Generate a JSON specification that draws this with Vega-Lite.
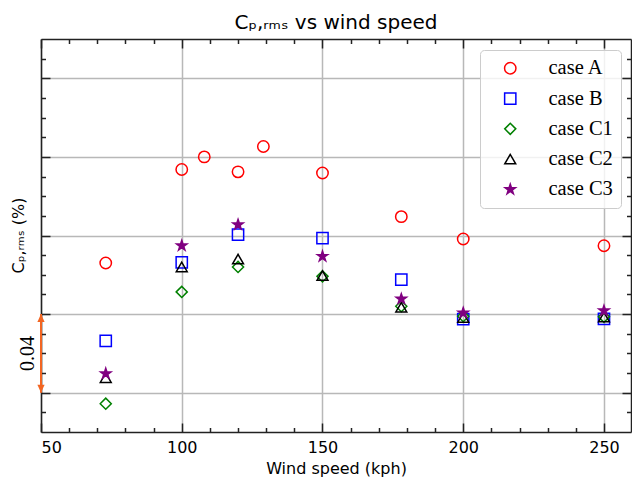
{
  "$schema": "https://vega.github.io/schema/vega-lite/v6.json",
  "width": 590,
  "height": 393,
  "autosize": "none",
  "padding": {"left": 41, "top": 39, "right": 1, "bottom": 49},
  "background": "white",
  "title": {"text": "Cₚ,ᵣₘₛ vs wind speed", "font": "DejaVu Sans", "fontSize": 20, "fontWeight": "normal", "color": "#000000", "baseline": "alphabetic", "offset": 10, "dy": 21},
  "config": {
    "view": {"stroke": null},
    "axis": {"labelFont": "DejaVu Sans", "titleFont": "DejaVu Sans", "labelColor": "#000000", "titleColor": "#000000", "tickColor": "#222222", "domainColor": "#222222", "tickWidth": 1.5, "domainWidth": 1.5, "gridColor": "#b8b8b8", "gridWidth": 1.5, "titleFontWeight": "normal", "labelFontSize": 16, "titleFontSize": 16},
    "legend": {"orient": "none", "legendX": 439, "legendY": 11, "padding": 8, "symbolOffset": 12, "labelOffset": 28, "labelFont": "Liberation Serif", "labelFontSize": 20.5, "labelColor": "#000000", "rowPadding": 9.3, "strokeColor": "#cccccc", "fillColor": "rgba(255,255,255,0.8)", "cornerRadius": 4, "symbolStrokeWidth": 1.5}
  },
  "data": {"values": [
    {"speed": 73, "cp": 0.106, "case": "case A"},
    {"speed": 100, "cp": 0.1536, "case": "case A"},
    {"speed": 108, "cp": 0.160, "case": "case A"},
    {"speed": 120, "cp": 0.1524, "case": "case A"},
    {"speed": 129, "cp": 0.1653, "case": "case A"},
    {"speed": 150, "cp": 0.1518, "case": "case A"},
    {"speed": 178, "cp": 0.1296, "case": "case A"},
    {"speed": 200, "cp": 0.1182, "case": "case A"},
    {"speed": 250, "cp": 0.1148, "case": "case A"},
    {"speed": 73, "cp": 0.0664, "case": "case B"},
    {"speed": 100, "cp": 0.1063, "case": "case B"},
    {"speed": 120, "cp": 0.1204, "case": "case B"},
    {"speed": 150, "cp": 0.1187, "case": "case B"},
    {"speed": 178, "cp": 0.0976, "case": "case B"},
    {"speed": 200, "cp": 0.0775, "case": "case B"},
    {"speed": 250, "cp": 0.0776, "case": "case B"},
    {"speed": 73, "cp": 0.0344, "case": "case C1"},
    {"speed": 100, "cp": 0.0913, "case": "case C1"},
    {"speed": 120, "cp": 0.104, "case": "case C1"},
    {"speed": 150, "cp": 0.0992, "case": "case C1"},
    {"speed": 178, "cp": 0.084, "case": "case C1"},
    {"speed": 200, "cp": 0.0789, "case": "case C1"},
    {"speed": 250, "cp": 0.0786, "case": "case C1"},
    {"speed": 73, "cp": 0.0476, "case": "case C2"},
    {"speed": 100, "cp": 0.104, "case": "case C2"},
    {"speed": 120, "cp": 0.108, "case": "case C2"},
    {"speed": 150, "cp": 0.0996, "case": "case C2"},
    {"speed": 178, "cp": 0.0835, "case": "case C2"},
    {"speed": 200, "cp": 0.0783, "case": "case C2"},
    {"speed": 250, "cp": 0.0785, "case": "case C2"},
    {"speed": 73, "cp": 0.0497, "case": "case C3"},
    {"speed": 100, "cp": 0.1148, "case": "case C3"},
    {"speed": 120, "cp": 0.1255, "case": "case C3"},
    {"speed": 150, "cp": 0.1094, "case": "case C3"},
    {"speed": 178, "cp": 0.0877, "case": "case C3"},
    {"speed": 200, "cp": 0.0806, "case": "case C3"},
    {"speed": 250, "cp": 0.0817, "case": "case C3"}
  ]},
  "resolve": {"axis": {"x": "independent", "y": "independent"}},
  "layer": [
    {
      "mark": {"type": "point", "strokeWidth": 1.5, "opacity": 1},
      "encoding": {
        "x": {"field": "speed", "type": "quantitative", "scale": {"domain": [50, 259.6], "nice": false, "zero": false},
          "axis": {"orient": "bottom", "values": [50, 100, 150, 200, 250], "grid": true, "tickSize": -9, "labelPadding": 16, "title": "Wind speed (kph)", "titleX": 295, "titleY": 41, "titleBaseline": "alphabetic", "titleAlign": "center"}},
        "y": {"field": "cp", "type": "quantitative", "scale": {"domain": [0.02, 0.22], "nice": false, "zero": false},
          "axis": {"orient": "left", "values": [0.04, 0.08, 0.12, 0.16, 0.2], "grid": true, "labels": false, "tickSize": -9, "title": "Cₚ,ᵣₘₛ (%)", "titleX": -23, "titleY": 196, "titleAngle": 270, "titleBaseline": "middle", "titleAlign": "center"}},
        "shape": {"field": "case", "type": "nominal", "scale": {"domain": ["case A", "case B", "case C1", "case C2", "case C3"], "range": ["circle", "square", "diamond", "triangle-up", "M0,-1L0.2245,-0.309L0.951,-0.309L0.363,0.118L0.588,0.809L0,0.382L-0.588,0.809L-0.363,0.118L-0.951,-0.309L-0.2245,-0.309Z"]}, "legend": {"title": null}},
        "stroke": {"field": "case", "type": "nominal", "scale": {"domain": ["case A", "case B", "case C1", "case C2", "case C3"], "range": ["#ff0000", "#0000ff", "#008000", "#000000", "#800080"]}, "legend": {"title": null}},
        "fill": {"field": "case", "type": "nominal", "scale": {"domain": ["case A", "case B", "case C1", "case C2", "case C3"], "range": ["transparent", "transparent", "transparent", "transparent", "#800080"]}, "legend": {"title": null}},
        "size": {"field": "case", "type": "nominal", "scale": {"domain": ["case A", "case B", "case C1", "case C2", "case C3"], "range": [130, 115, 180, 140, 240]}, "legend": {"title": null}}
      }
    },
    {
      "mark": {"type": "point", "opacity": 0},
      "encoding": {
        "x": {"field": "speed", "type": "quantitative", "scale": {"domain": [50, 259.6], "nice": false, "zero": false},
          "axis": {"orient": "bottom", "values": [60, 70, 80, 90, 110, 120, 130, 140, 160, 170, 180, 190, 210, 220, 230, 240], "labels": false, "domain": false, "grid": false, "tickSize": -4.5, "title": null}},
        "y": {"field": "cp", "type": "quantitative", "scale": {"domain": [0.02, 0.22], "nice": false, "zero": false},
          "axis": {"orient": "left", "values": [0.03, 0.05, 0.06, 0.07, 0.09, 0.1, 0.11, 0.13, 0.14, 0.15, 0.17, 0.18, 0.19, 0.21], "labels": false, "domain": false, "grid": false, "tickSize": -4.5, "title": null}}
      }
    },
    {
      "mark": {"type": "point", "opacity": 0},
      "encoding": {
        "x": {"field": "speed", "type": "quantitative", "scale": {"domain": [50, 259.6], "nice": false, "zero": false},
          "axis": {"orient": "top", "values": [50, 100, 150, 200, 250], "labels": false, "grid": false, "tickSize": -9, "title": null}},
        "y": {"field": "cp", "type": "quantitative", "scale": {"domain": [0.02, 0.22], "nice": false, "zero": false},
          "axis": {"orient": "right", "values": [0.04, 0.08, 0.12, 0.16, 0.2], "labels": false, "grid": false, "tickSize": -9, "title": null}}
      }
    },
    {
      "mark": {"type": "point", "opacity": 0},
      "encoding": {
        "x": {"field": "speed", "type": "quantitative", "scale": {"domain": [50, 259.6], "nice": false, "zero": false},
          "axis": {"orient": "top", "values": [60, 70, 80, 90, 110, 120, 130, 140, 160, 170, 180, 190, 210, 220, 230, 240], "labels": false, "domain": false, "grid": false, "tickSize": -4.5, "title": null}},
        "y": {"field": "cp", "type": "quantitative", "scale": {"domain": [0.02, 0.22], "nice": false, "zero": false},
          "axis": {"orient": "right", "values": [0.03, 0.05, 0.06, 0.07, 0.09, 0.1, 0.11, 0.13, 0.14, 0.15, 0.17, 0.18, 0.19, 0.21], "labels": false, "domain": false, "grid": false, "tickSize": -4.5, "title": null}}
      }
    },
    {
      "data": {"values": [{"ax": 50, "ylo": 0.04, "yhi": 0.08}]},
      "mark": {"type": "rule", "color": "#f26522", "strokeWidth": 2},
      "encoding": {
        "x": {"field": "ax", "type": "quantitative", "axis": null, "scale": {"domain": [50, 259.6], "nice": false, "zero": false}},
        "y": {"field": "ylo", "type": "quantitative", "axis": null, "scale": {"domain": [0.02, 0.22], "nice": false, "zero": false}},
        "y2": {"field": "yhi"}
      }
    },
    {
      "data": {"values": [{"ax": 50, "ay": 0.08}]},
      "mark": {"type": "point", "shape": "M0,0L0.9,2L-0.9,2Z", "filled": true, "color": "#f26522", "opacity": 1, "size": 64},
      "encoding": {
        "x": {"field": "ax", "type": "quantitative", "axis": null, "scale": {"domain": [50, 259.6], "nice": false, "zero": false}},
        "y": {"field": "ay", "type": "quantitative", "axis": null, "scale": {"domain": [0.02, 0.22], "nice": false, "zero": false}}
      }
    },
    {
      "data": {"values": [{"ax": 50, "ay": 0.04}]},
      "mark": {"type": "point", "shape": "M0,0L0.9,-2L-0.9,-2Z", "filled": true, "color": "#f26522", "opacity": 1, "size": 64},
      "encoding": {
        "x": {"field": "ax", "type": "quantitative", "axis": null, "scale": {"domain": [50, 259.6], "nice": false, "zero": false}},
        "y": {"field": "ay", "type": "quantitative", "axis": null, "scale": {"domain": [0.02, 0.22], "nice": false, "zero": false}}
      }
    },
    {
      "data": {"values": [{"ax": 50, "ay": 0.06, "label": "0.04"}]},
      "mark": {"type": "text", "font": "Liberation Serif", "fontSize": 20, "angle": 270, "align": "center", "baseline": "middle", "dy": -13.5, "color": "#000000"},
      "encoding": {
        "x": {"field": "ax", "type": "quantitative", "axis": null, "scale": {"domain": [50, 259.6], "nice": false, "zero": false}},
        "y": {"field": "ay", "type": "quantitative", "axis": null, "scale": {"domain": [0.02, 0.22], "nice": false, "zero": false}},
        "text": {"field": "label"}
      }
    }
  ]
}
